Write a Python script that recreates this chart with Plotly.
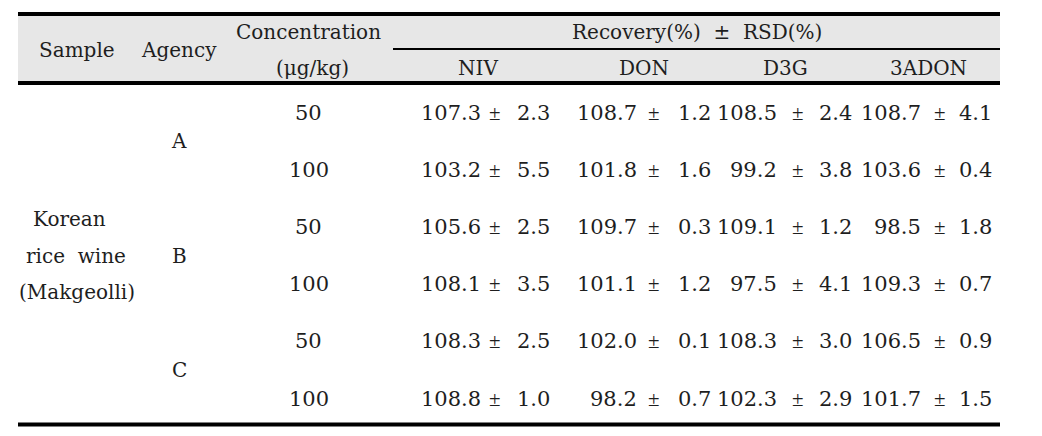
import plotly.graph_objects as go

# ---- data ----
sample_lines = ["Korean", "rice  wine", "(Makgeolli)"]
agencies = ["A", "B", "C"]
concentrations = ["50", "100", "50", "100", "50", "100"]
analytes = ["NIV", "DON", "D3G", "3ADON"]
means = {
    "NIV":   [107.3, 103.2, 105.6, 108.1, 108.3, 108.8],
    "DON":   [108.7, 101.8, 109.7, 101.1, 102.0, 98.2],
    "D3G":   [108.5, 99.2, 109.1, 97.5, 108.3, 102.3],
    "3ADON": [108.7, 103.6, 98.5, 109.3, 106.5, 101.7],
}
rsds = {
    "NIV":   [2.3, 5.5, 2.5, 3.5, 2.5, 1.0],
    "DON":   [1.2, 1.6, 0.3, 1.2, 0.1, 0.7],
    "D3G":   [2.4, 3.8, 1.2, 4.1, 3.0, 2.9],
    "3ADON": [4.1, 0.4, 1.8, 0.7, 0.9, 1.5],
}

# ---- layout geometry (pixel space of the page) ----
W, H = 1042, 436
OFF = 8  # default page body margin
FONT = "DejaVu Serif"
PMFONT = "Liberation Serif"
FS = 20
NFS = 21
TXT = "#1e1e1e"
X0, X1 = 18, 1000
row_y0, row_dy = 112.5, 57.2
col_pos = {  # mean right edge, ± centre, rsd right edge
    "NIV": (482, 495, 551),
    "DON": (638, 654, 712),
    "D3G": (778, 798, 853),
    "3ADON": (922, 940, 993),
}
head_x = {"NIV": 478, "DON": 644, "D3G": 785, "3ADON": 928}

fig = go.Figure()
ann = []
def T(x, y, s, xa="center", size=FS, family=FONT):
    ann.append(dict(x=x, y=y, xref="x", yref="y", text=s, showarrow=False,
                    xanchor=xa, yanchor="middle", borderpad=0,
                    font=dict(family=family, size=size, color=TXT)))

shapes = [
    dict(type="rect", x0=X0, x1=X1, y0=14, y1=83, fillcolor="#e7e7e7", line_width=0, layer="below"),
    dict(type="line", x0=X0, x1=X1, y0=14, y1=14, line=dict(color="black", width=4)),
    dict(type="line", x0=393, x1=X1, y0=49, y1=49, line=dict(color="black", width=2)),
    dict(type="line", x0=X0, x1=X1, y0=83, y1=83, line=dict(color="black", width=4)),
    dict(type="line", x0=X0, x1=X1, y0=424.5, y1=424.5, line=dict(color="black", width=4)),
]

# headers
T(77, 50, "Sample")
T(179, 50, "Agency")
T(308, 32, "Concentration")
T(312, 68, "(μg/kg)")
T(697, 32, "Recovery(%)  ±  RSD(%)")
for a in analytes:
    T(head_x[a], 68, a)

# sample label
T(69, 219, sample_lines[0])
T(76, 256, sample_lines[1])
T(77, 292, sample_lines[2])

# agencies
for i, ag in enumerate(agencies):
    T(179, row_y0 + row_dy * (2 * i + 0.5), ag)

# rows
for r, c in enumerate(concentrations):
    y = row_y0 + row_dy * r
    T(308.5, y, c, size=NFS)
    for a in analytes:
        xm, xpm, xr = col_pos[a]
        T(xm, y, f"{means[a][r]:.1f}", xa="right", size=NFS)
        T(xpm, y, "±", size=NFS, family=PMFONT)
        T(xr, y, f"{rsds[a][r]:.1f}", xa="right", size=NFS)

fig.update_layout(
    width=W, height=H, margin=dict(l=0, r=0, t=0, b=0),
    paper_bgcolor="white", plot_bgcolor="white",
    xaxis=dict(range=[OFF, W + OFF], visible=False, fixedrange=True),
    yaxis=dict(range=[H + OFF, OFF], visible=False, fixedrange=True),
    annotations=ann, shapes=shapes, showlegend=False,
)
fig.write_html("out.html")
